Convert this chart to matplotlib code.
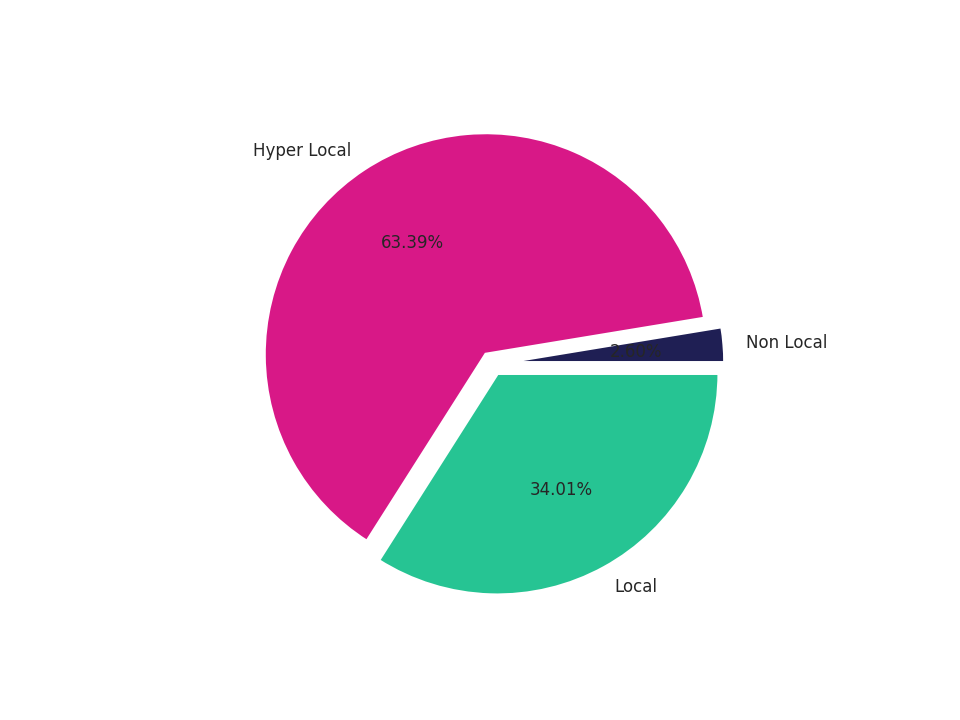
import matplotlib
matplotlib.use("Agg")
import matplotlib.pyplot as plt

# share of customers by distance
labels = ["Non Local", "Hyper Local", "Local"]
shares = [2.60, 63.39, 34.01]
colors = ["#1f1f54", "#d81887", "#26c493"]
explode = [0.05, 0.05, 0.05]

plt.rcParams["text.color"] = "#262626"

fig, ax = plt.subplots(figsize=(8, 6), dpi=120)
ax.pie(shares, labels=labels, colors=colors, explode=explode,
       autopct="%.2f%%", wedgeprops={"edgecolor": "white", "linewidth": 2})

fig.savefig("out.png", dpi=120)
